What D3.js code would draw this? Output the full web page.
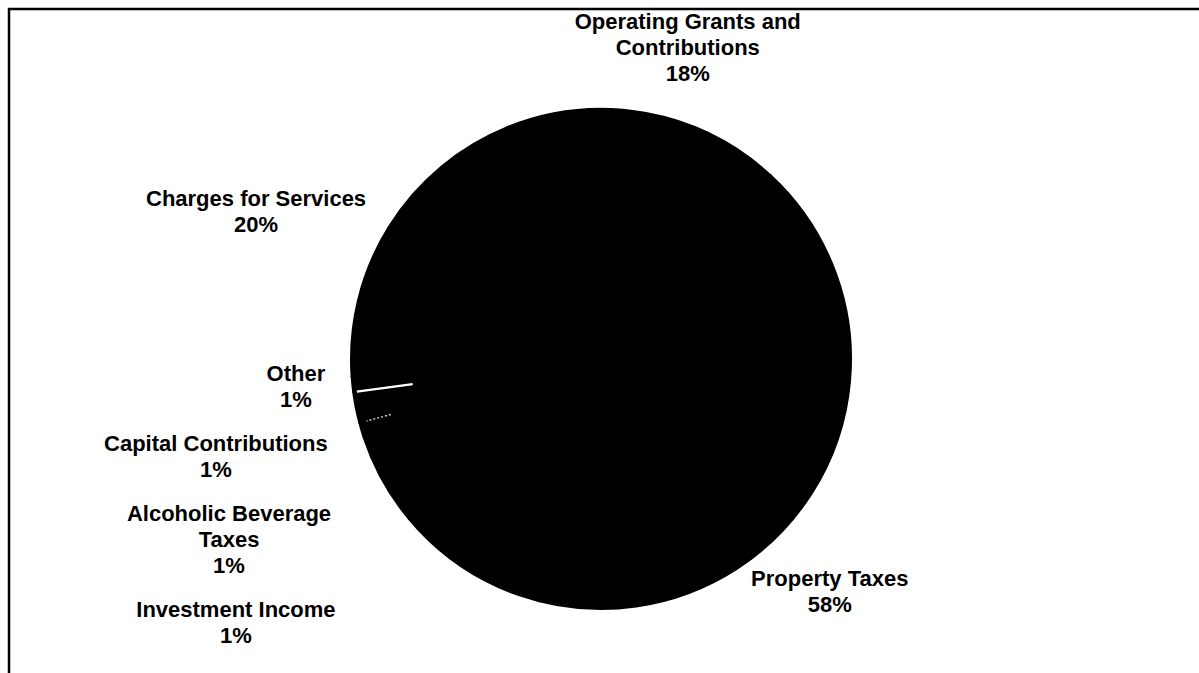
<!DOCTYPE html>
<html lang="en">
<head>
<meta charset="utf-8">
<title>revenues by source</title>
<script src="https://cdn.jsdelivr.net/npm/d3@7/dist/d3.min.js"></script>
<style>
  body { margin: 0; background: #fff; }
  .label { font: bold 22px "Liberation Sans", Arial, sans-serif; fill: #000; }
</style>
</head>
<body>
<script>
var w = 1199, h = 673;

// slices, clockwise from the top
var categories = ["Operating Grants and Contributions", "Property Taxes", "Investment Income",
                  "Alcoholic Beverage Taxes", "Capital Contributions", "Other", "Charges for Services"];
var labelLines = [["Operating Grants and", "Contributions"], ["Property Taxes"], ["Investment Income"],
                  ["Alcoholic Beverage", "Taxes"], ["Capital Contributions"], ["Other"], ["Charges for Services"]];
var shares = [18, 58, 1, 1, 1, 1, 20];

var cx = 601, cy = 359, r = 250;
var rot = -22 * Math.PI / 180;
var lineH = 26, gap = 27, stackGap = 18;

var svg = d3.select("body").append("svg")
    .attr("width", w)
    .attr("height", h);

// frame: only top and left edges are in view
svg.append("rect")
    .attr("x", 9).attr("y", 9)
    .attr("width", w + 20).attr("height", h + 20)
    .attr("fill", "none")
    .attr("stroke", "#000")
    .attr("stroke-width", 2.5);

var pie = d3.pie().sort(null).value(function(d) { return d; })
    .startAngle(rot).endAngle(rot + 2 * Math.PI);
var arcs = pie(shares);
var arc = d3.arc().innerRadius(0).outerRadius(r);

var g = svg.append("g").attr("transform", "translate(" + cx + "," + cy + ")");

g.selectAll("path.slice")
    .data(arcs)
    .enter()
    .append("path")
    .attr("class", "slice")
    .attr("d", arc)
    .attr("fill", "#000")
    .attr("stroke", "#000")
    .attr("stroke-width", 2)
    .attr("stroke-linejoin", "round");

// the two faint light seams that show between the small slices
function seam(a, r0, r1) {
  return [[r0 * Math.sin(a), -r0 * Math.cos(a)], [r1 * Math.sin(a), -r1 * Math.cos(a)]];
}
g.append("path")
    .attr("d", d3.line()(seam(arcs[5].startAngle, r * 0.76, r * 0.985)))
    .attr("stroke", "#fff").attr("stroke-width", 2.2);
g.append("path")
    .attr("d", d3.line()(seam(arcs[3].startAngle, r * 0.87, r * 0.97)))
    .attr("stroke", "#ccc").attr("stroke-width", 1.5)
    .attr("stroke-dasharray", "2,2");

// labels
var labels = svg.selectAll("text.label")
    .data(arcs)
    .enter()
    .append("text")
    .attr("class", "label")
    .attr("text-anchor", "middle");

labels.each(function(d, i) {
  var t = d3.select(this);
  var lines = labelLines[i].concat([shares[i] + "%"]);
  lines.forEach(function(s, k) {
    t.append("tspan").attr("x", 0).attr("y", k * lineH).text(s);
  });
});

var boxes = [];
labels.each(function(d, i) {
  var bb = this.getBBox();
  var n = labelLines[i].length + 1;
  var hw = bb.width / 2, hh = n * lineH / 2;
  var mid = (d.startAngle + d.endAngle) / 2;
  var s = Math.sin(mid), c = Math.cos(mid);
  var ox, oy;
  if (Math.abs(s) >= 0.5) {          // side labels sit beside the point
    ox = Math.sign(s) * hw; oy = 0;
  } else {                           // top / bottom labels sit above or below it
    ox = Math.max(-1, Math.min(1, 1.8 * s)) * hw; oy = -Math.sign(c) * hh;
  }
  boxes.push({
    el: this, hh: hh,
    x: cx + (r + gap) * s + ox,
    y: cy - (r + gap) * c + oy,
    left: s < 0
  });
});

// push the left-hand labels down so they do not overlap
var leftSide = boxes.filter(function(b) { return b.left; })
    .sort(function(a, b) { return a.y - b.y; });
for (var k = 1; k < leftSide.length; k++) {
  var prev = leftSide[k - 1], cur = leftSide[k];
  var minY = prev.y + prev.hh + cur.hh + stackGap;
  if (cur.y < minY) cur.y = minY;
}

boxes.forEach(function(b) {
  var top = b.y - b.hh;
  d3.select(b.el).attr("transform", "translate(" + b.x + "," + (top + 20) + ")");
});
</script>
</body>
</html>
